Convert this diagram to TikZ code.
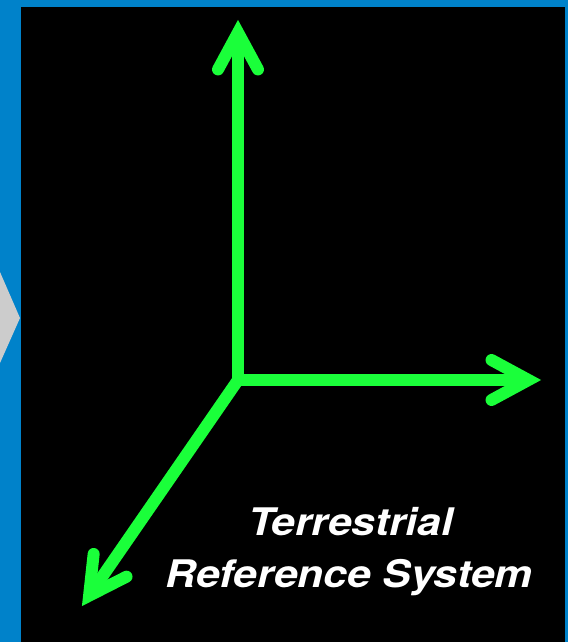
\documentclass[tikz,border=0pt]{standalone}
\usepackage{fontspec}
\usetikzlibrary{calc}
\newfontfamily\labelfont{TeX Gyre Heros}[FakeStretch=1.12]
\definecolor{framebg}{RGB}{0,130,202}
\definecolor{panelbg}{RGB}{0,0,0}
\definecolor{axisgreen}{RGB}{26,255,58}
\definecolor{chevrongray}{RGB}{204,204,204}

\begin{document}
\begin{tikzpicture}[x=1pt,y=-1pt,
  axis/.style={draw=axisgreen, line width=12pt, line cap=butt, line join=miter},
  barb/.style={draw=axisgreen, line width=12pt, line cap=round, line join=miter, miter limit=10},
  caption/.style={text=white, font=\labelfont\bfseries\itshape\fontsize{38}{52}\selectfont,
    anchor=base, inner sep=0pt}]

\useasboundingbox (0,0) rectangle (568,642);
\clip (0,0) rectangle (568,642);

% frame, side chevron and dark panel
\fill[framebg] (0,0) rectangle (568,642);
\fill[chevrongray] (-20,226) -- (20,318) -- (-20,408) -- cycle;
\fill[panelbg] (21,7) rectangle (565,642);

% axis origin and arrow tips
\coordinate (o) at (238,380);
\coordinate (xtip) at (541,380);
\coordinate (ytip) at (238,20);
\coordinate (ztip) at (82,606);

% join points of the barbs, set back so the mitred tip lands on the tip point
\foreach \a in {x,y,z}{
  \coordinate (\a j) at ($(\a tip)!12.5pt!(o)$);
  \coordinate (\a b1) at ($(\a j)!42pt!28.4:(o)$);
  \coordinate (\a b2) at ($(\a j)!42pt!-28.4:(o)$);
}

% shafts
\draw[axis] (yj) -- (o) -- (xj);
\draw[axis] (o) -- (zj);

% arrowheads
\draw[barb] (xb1) -- (xj) -- (xb2);
\draw[barb] (yb1) -- (yj) -- (yb2);
\draw[barb] (zb1) -- (zj) -- (zb2);

% caption
\node[caption] (t1) at (351,535) {Terrestrial};
\node[caption] (t2) at (349,587) {Reference System};
\end{tikzpicture}
\end{document}
